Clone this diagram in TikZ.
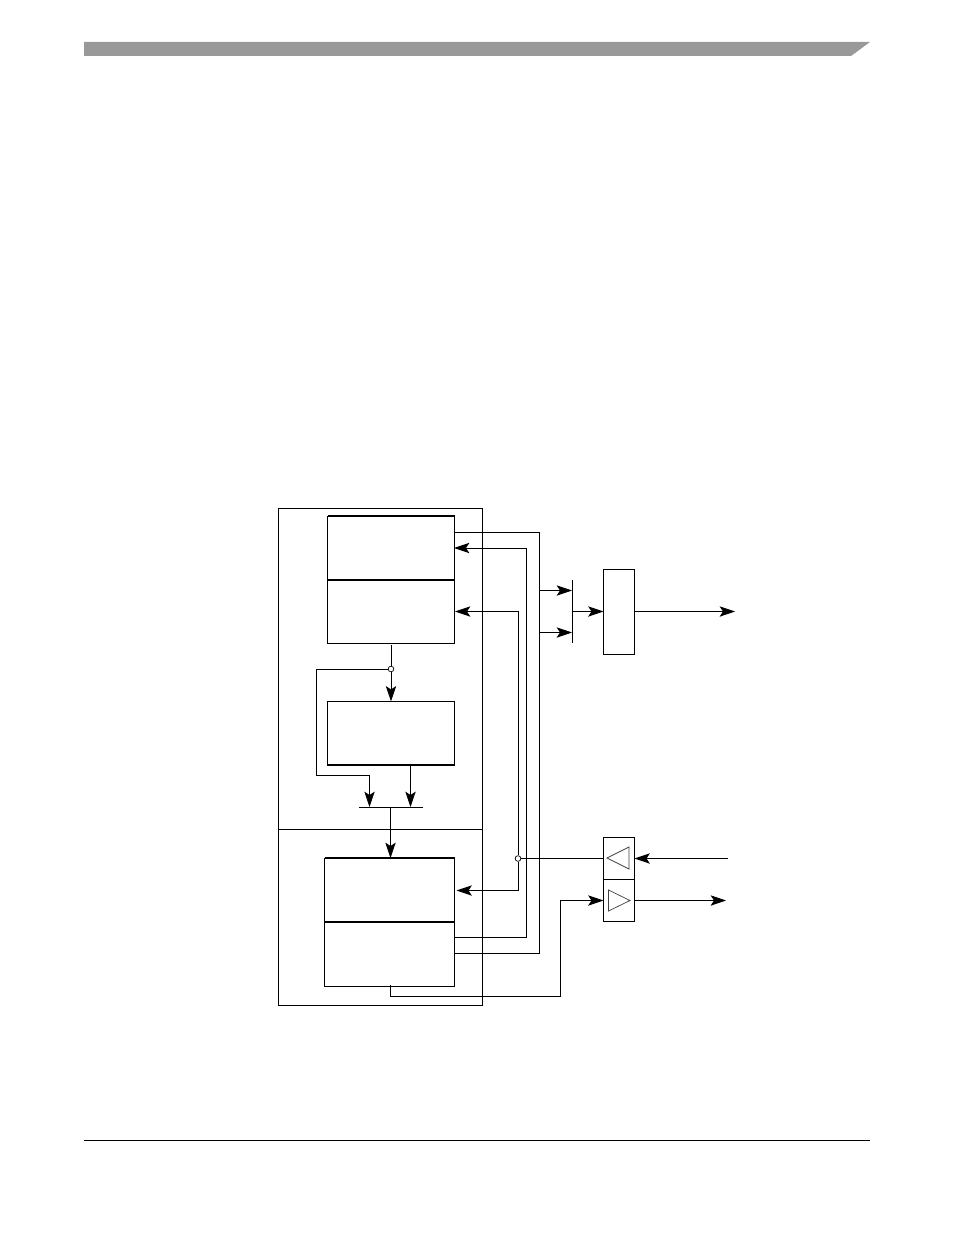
\documentclass[tikz,border=0pt]{standalone}
\usetikzlibrary{arrows.meta}
\definecolor{color-bar}{RGB}{153,153,153}

\begin{document}
\begin{tikzpicture}[x=0.03cm, y=-0.03cm, line width=0.85pt, >={Stealth[length=0.46cm,width=0.31cm,inset=0.1cm]},
  block/.style={rectangle,draw,fill=white,outer sep=0pt,inner sep=0pt},
  reg/.style={block,minimum width=3.81cm,minimum height=1.91cm},
  regwide/.style={block,minimum width=3.9cm,minimum height=1.92cm},
  pad/.style={block,minimum width=0.93cm,minimum height=1.26cm},
  dot/.style={circle,inner sep=0pt,minimum size=0.17cm,draw,line width=0.6pt,fill=white},
  edge/.style={line width=1.7pt,line cap=butt},
  buf/.style={draw=black!75,line width=0.6pt}]

\useasboundingbox (0,0) rectangle (954,1235);

% page header and footer
\fill[color-bar] (84,42) -- (870,42) -- (851,56) -- (84,56) -- cycle;
\coordinate (footl) at (84,1140.5);
\coordinate (footr) at (870,1140.5);
\draw [line width=0.6pt] (footl) -- (footr);

% outer module
\node [block,fill=none,minimum width=6.12cm,minimum height=14.91cm] (core) at (380.5,756.75) {};
\coordinate (divl) at (278.5,829.5);
\coordinate (divr) at (482.5,829.5);
\draw (divl) -- (divr);

% registers
\node [reg] (rega) at (391,547.85) {};
\node [reg] (regb) at (391,611.5) {};
\node [reg] (regc) at (391,733.25) {};
\node [regwide] (regd) at (389.5,890) {};
\node [regwide] (rege) at (389.5,954) {};
\draw [edge] (rega.north west) -- (rega.north east);
\draw [edge] (rega.south west) -- (rega.south east);
\draw [edge] (regc.south west) -- (regc.south east);
\draw [edge] (regd.north west) -- (regd.north east);
\draw [edge] (regd.south west) -- (regd.south east);

% pads
\node [block,minimum width=0.93cm,minimum height=2.55cm] (out) at (619,611.5) {};
\node [pad] (padin) at (619,858.5) {};
\node [pad] (padout) at (619,900.5) {};
\draw [buf] (607,858) -- (629,847) -- (629,869) -- cycle;
\draw [buf] (608.5,890) -- (630,900.5) -- (608.5,911) -- cycle;

% mux bars
\coordinate (mbarl) at (359,807);
\coordinate (mbarr) at (423,807);
\coordinate (mbarc) at (390.5,807);
\draw (mbarl) -- (mbarr);
\coordinate (sbart) at (572.5,580);
\coordinate (sbarb) at (572.5,643);
\coordinate (sbarc) at (572.5,611.5);
\draw (sbart) -- (sbarb);

% junctions
\coordinate (astart) at (391,645);
\node [dot] (j1) at (391,669) {};
\node [dot] (j2) at (518,858.5) {};

\draw (astart) -- (j1);
\draw [->] (j1) -- (regc.north);
\draw [->] (j1) -- (316.5,669) -- (316.5,775) -- (369.5,775) -- (369.5,807);
\draw [->] (regc.south -| 410.5,0) -- (410.5,807);
\draw [->] (mbarc) -- (regd.north -| mbarc);

% links on the right
\coordinate (a1) at (454.5,532.5);
\coordinate (e2) at (454.5,953.5);
\coordinate (a2) at (454,548);
\coordinate (e1) at (454.5,937.5);
\coordinate (b1) at (455,611.5);
\coordinate (d1) at (456.5,890.5);
\draw (a1) -- (539.5,532.5) -- (539.5,953.5) -- (e2);
\draw [->] (e1) -- (526.5,937.5) -- (526.5,548) -- (a2);
\draw [->] (j2) -- (518,611.5) -- (b1);
\draw [->] (j2) -- (518,890.5) -- (d1);
\draw (j2) -- (padin.west);

% to the output block
\coordinate (t1) at (539.5,590.5);
\coordinate (t2) at (539.5,632.5);
\draw [->] (t1) -- (572,590.5);
\draw [->] (t2) -- (572,632.5);
\draw [->] (sbarc) -- (out.west);
\coordinate (outend) at (735,611.5);
\draw [->] (out.east) -- (outend);

% pins
\coordinate (pinin) at (728,858.5);
\coordinate (pinout) at (726,900.5);
\coordinate (estart) at (390.5,985);
\draw [->] (pinin) -- (padin.east);
\draw [->] (padout.east) -- (pinout);
\draw [->] (estart) -- (390.5,996) -- (560.5,996) -- (560.5,900.5) -- (padout.west);
\end{tikzpicture}
\end{document}
